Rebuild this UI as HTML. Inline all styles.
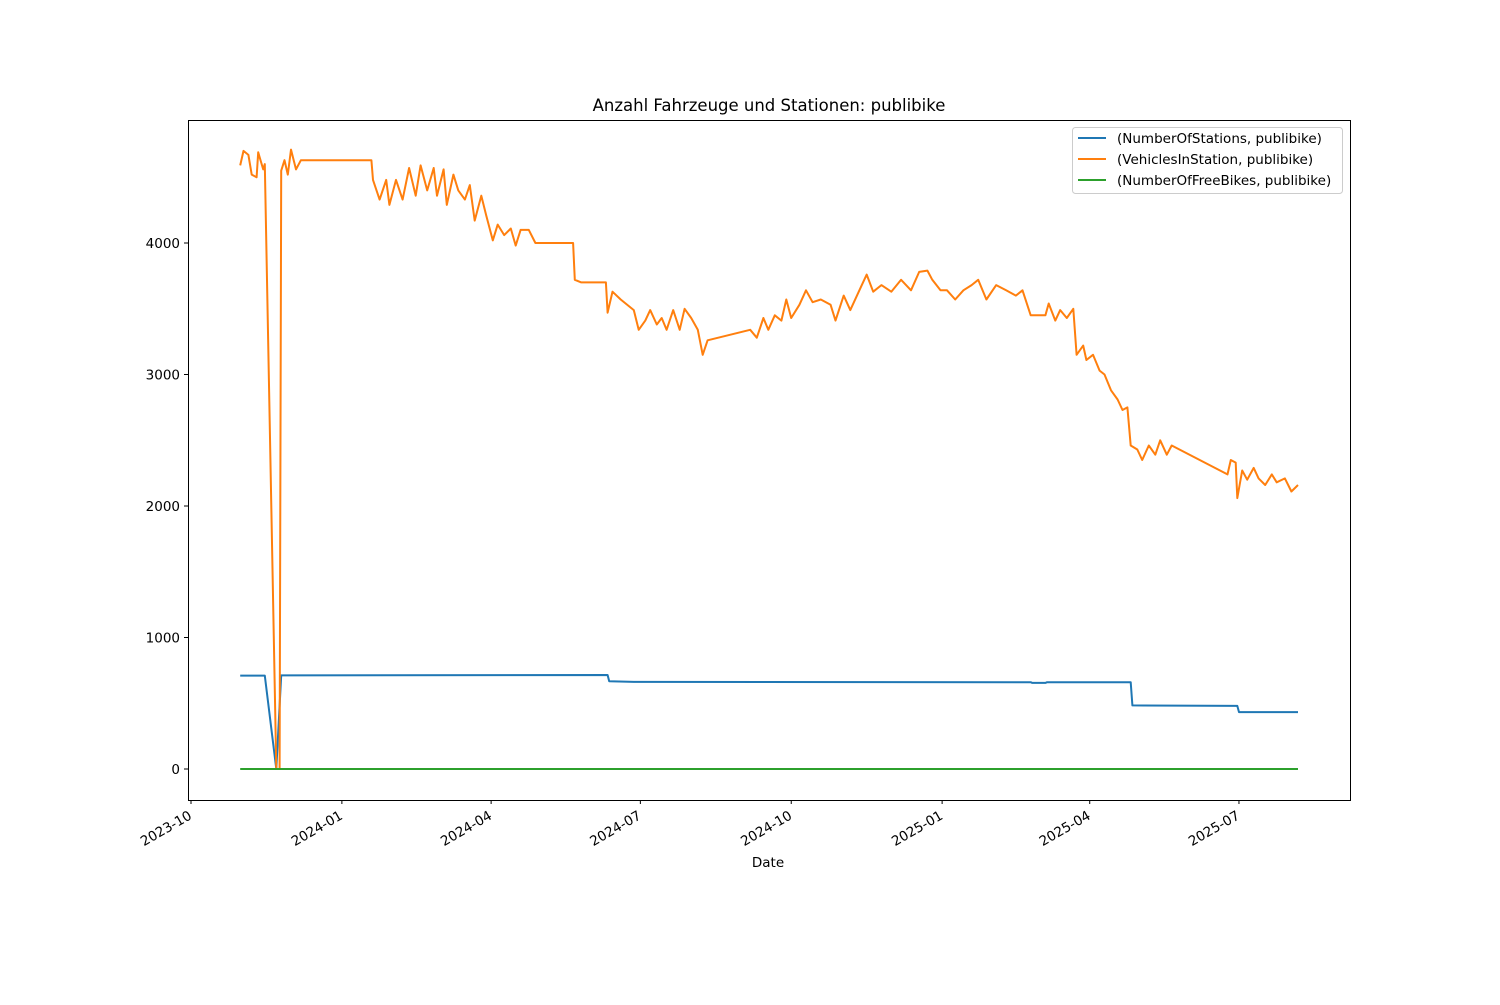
<!DOCTYPE html>
<html><head><meta charset="utf-8"><style>
body{margin:0;background:#fff;}
svg text{font-family:"DejaVu Sans","Liberation Sans",sans-serif;}
</style></head><body>
<svg id="chart" width="1500" height="1000" xmlns="http://www.w3.org/2000/svg">
<rect width="1500" height="1000" fill="#fff"/>
<text x="769" y="111" font-size="16.5" text-anchor="middle">Anzahl Fahrzeuge und Stationen: publibike</text>
<g id="plot"></g>
<rect x="188.5" y="120.5" width="1162" height="680" fill="none" stroke="#000" stroke-width="1"/>
<g id="xaxis"></g>
<g id="yaxis"></g>
<text x="768" y="867" font-size="13.5" text-anchor="middle">Date</text>
<g>
<rect x="1072.5" y="127.5" width="270" height="66" rx="3" fill="#fff" fill-opacity="0.8" stroke="#ccc"/>
<g><line x1="1078" x2="1106" y1="138" y2="138" stroke="#1f77b4" stroke-width="2"/><text x="1117" y="143" font-size="13.5">(NumberOfStations, publibike)</text></g>
<g><line x1="1078" x2="1106" y1="159" y2="159" stroke="#ff7f0e" stroke-width="2"/><text x="1117" y="164" font-size="13.5">(VehiclesInStation, publibike)</text></g>
<g><line x1="1078" x2="1106" y1="180" y2="180" stroke="#2ca02c" stroke-width="2"/><text x="1117" y="185" font-size="13.5">(NumberOfFreeBikes, publibike)</text></g>
</g>
</svg>
<script>
// days since 2023-10-01
const vehicleDays=[30,32,35,37,40,41,44,45,52,54,55,57,59,61,64,67,110,111,115,119,121,125,129,133,137,140,144,148,150,154,156,160,163,167,170,173,177,180,184,187,191,195,198,201,206,210,233,234,238,253,254,257,262,270,273,277,280,284,287,290,294,298,301,305,309,312,315,341,345,349,352,356,360,363,366,371,375,379,384,390,393,398,402,409,412,416,421,427,433,439,444,449,452,457,461,466,471,476,480,485,491,497,503,507,512,521,523,527,530,534,538,540,544,546,550,554,557,561,565,568,571,573,577,580,584,588,591,595,598,632,634,637,638,641,644,648,651,655,659,662,667,671,675];
const vehicleValues=[4590,4700,4670,4520,4500,4690,4560,4600,0,0,4550,4630,4520,4710,4560,4630,4630,4480,4330,4480,4290,4480,4330,4570,4360,4590,4400,4570,4360,4560,4290,4520,4400,4330,4440,4170,4360,4210,4020,4140,4060,4110,3980,4100,4100,4000,4000,3720,3700,3700,3470,3630,3570,3490,3340,3410,3490,3380,3430,3340,3490,3340,3500,3430,3340,3150,3260,3340,3280,3430,3340,3450,3410,3570,3430,3530,3640,3550,3570,3530,3410,3600,3490,3680,3760,3630,3680,3630,3720,3640,3780,3790,3720,3640,3640,3570,3640,3680,3720,3570,3680,3640,3600,3640,3450,3450,3540,3410,3490,3430,3500,3150,3220,3110,3150,3030,3000,2880,2810,2730,2750,2460,2430,2350,2460,2390,2500,2390,2460,2240,2350,2330,2060,2270,2200,2290,2210,2160,2240,2180,2210,2110,2160];
const stationDays=[30,45,52,55,254,255,270,512,513,521,522,573,574,638,639,675];
const stationValues=[710,710,0,712,715,668,662,660,655,655,660,660,484,480,433,433];
const freeDays=[30,675];
const freeValues=[0,0];
const xTickDays=[0,92,183,274,366,458,548,639];
const xTickLabels=["2023-10","2024-01","2024-04","2024-07","2024-10","2025-01","2025-04","2025-07"];
const yTicks=[0,1000,2000,3000,4000];

const NS="http://www.w3.org/2000/svg";
const xs=d=>191+d*1.64;
const ys=v=>769-v*0.1315;
const plot=document.getElementById('plot');
function addLine(days,vals,color,name){
  const p=document.createElementNS(NS,'path');
  p.setAttribute('d',days.map((d,i)=>(i?'L':'M')+xs(d).toFixed(1)+','+ys(vals[i]).toFixed(1)).join(''));
  p.setAttribute('fill','none');p.setAttribute('stroke',color);p.setAttribute('stroke-width','2');
  p.setAttribute('stroke-linejoin','round');
  
  
  plot.appendChild(p);
}
addLine(stationDays,stationValues,'#1f77b4','stations-line');
addLine(vehicleDays,vehicleValues,'#ff7f0e','vehicles-line');
addLine(freeDays,freeValues,'#2ca02c','free-bikes-line');

const xa=document.getElementById('xaxis');
xTickDays.forEach((d,i)=>{
  const x=xs(d);
  const g=document.createElementNS(NS,'g');
  
  
  g.innerHTML=`<line x1="${x}" x2="${x}" y1="800" y2="804" stroke="#000"/><text transform="translate(${x-3},${810}) rotate(-30)" text-anchor="end" font-size="13.5" dy="0.7em">${xTickLabels[i]}</text>`;
  xa.appendChild(g);
});
const ya=document.getElementById('yaxis');
yTicks.forEach(v=>{
  const y=ys(v);
  const g=document.createElementNS(NS,'g');
  
  
  g.innerHTML=`<line x1="184" x2="188" y1="${y}" y2="${y}" stroke="#000"/><text x="180" y="${y+5}" text-anchor="end" font-size="13.5">${v}</text>`;
  ya.appendChild(g);
});
</script>
</body></html>
